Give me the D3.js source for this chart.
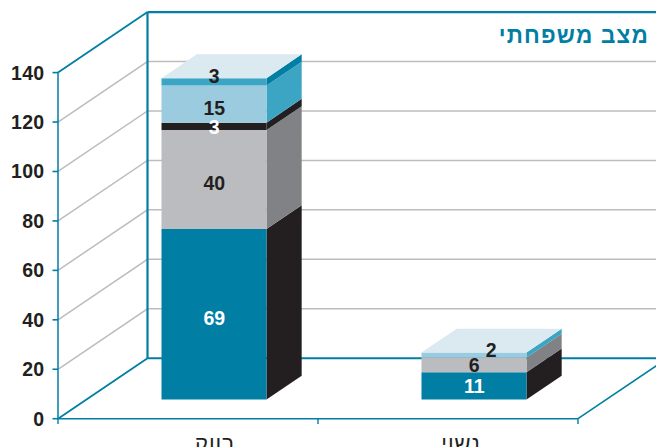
<!DOCTYPE html>
<html><head><meta charset="utf-8">
<script src="https://cdn.jsdelivr.net/npm/d3@7"></script>
<style>html,body{margin:0;padding:0;background:#fff;overflow:hidden}svg{display:block}text{font-family:"Liberation Sans",Arial,sans-serif}</style>
</head><body><svg id="c" width="656" height="447"></svg>
<script>
const categories = ["רווק","נשוי"];
const title = "מצב משפחתי";
const tickValues = [0,20,40,60,80,100,120,140];
const seriesKeys = ["s1","s2","s3","s4","s5"];
const s1 = [69,11];
const s2 = [40,6];
const s3 = [3,0];
const s4 = [15,2];
const s5 = [3,0];
const frontColors = ["#007ea3","#bbbcbf","#231f20","#9bcbdf","#3ba5c3"];
const sideColors  = ["#231f20","#808285","#231f20","#3ba5c3","#007ea3"];
const labelColors = ["#fff","#231f20","#fff","#231f20","#231f20"];
const rows = categories.map((c,i)=>({c,s1:s1[i],s2:s2[i],s3:s3[i],s4:s4[i],s5:s5[i]}));

const svg = d3.select("#c");
const x = d3.scaleBand().domain(categories).range([58,578]);
const y = d3.scaleLinear().domain([0,140]).range([418.7,72.6]);
const depthX = d3.scaleLinear().domain([0,1]).range([0,89.5]);
const depthY = d3.scaleLinear().domain([0,1]).range([0,-60.5]);
const P = (px,v,d)=>[px+depthX(d), y(v)+depthY(d)];
const line = d3.line();
const teal="#007ea3", ink="#231f20", RIGHT=700;

// grid
tickValues.filter(t=>t>0&&t<140).forEach(t=>{
  svg.append("path").attr("fill","none").attr("stroke","#bcbdc0").attr("stroke-width",1.5)
    .attr("d",line([P(58,t,0),P(58,t,1),[RIGHT,P(58,t,1)[1]]]));
});
// frame
const stroke=(pts,w)=>svg.append("path").attr("fill","none").attr("stroke",teal).attr("stroke-width",w).attr("d",line(pts));
stroke([P(58,0,1),[RIGHT,P(58,0,1)[1]]],2);
stroke([P(58,0,1),P(58,140,1)],2.2);
stroke([P(58,140,1),[RIGHT,P(58,140,1)[1]]],2.2);
stroke([P(58,140,0),P(58,140,1)],1.8);
stroke([P(58,0,0),P(58,0,1)],1.8);
stroke([P(58,0,0),P(58,140,0)],1.5);
stroke([P(58,0,0),P(578,0,0)],1.6);
stroke([P(578,0,0),P(578,0,1)],1.6);
// ticks
tickValues.forEach(t=>{
  stroke([[52.5,y(t)],[58,y(t)]],1.6);
  svg.append("text").attr("x",44.5).attr("y",y(t)+6.9).attr("text-anchor","end")
    .attr("font-size",19.5).attr("letter-spacing",0.3).attr("font-weight",700).attr("fill",ink).text(t);
});
[58,318,578].forEach(px=>stroke([[px,418.7],[px,424]],1.4));

// bars
const stack = d3.stack().keys(seriesKeys)(rows);
const barW = 105, d0 = 0.317, d1 = 0.71, off = 26;
const nudges = {"0-0":4,"0-1":3.4,"0-2":0.5,"0-3":4,"0-4":-6,"1-0":-0.2,"1-1":-0.2,"1-2":0,"1-3":-4.5,"1-4":0};
const cx = c => x(c)+x.bandwidth()/2+off-barW/2;
rows.forEach((r,ri)=>{
  const L = cx(r.c)-depthX(d0)+depthX(0), R = L+barW;
  const g = svg.append("g");
  stack.forEach((ser,si)=>{
    const [a,b] = ser[ri];
    if(b===a) return;
    g.append("path").attr("fill",sideColors[si]).attr("d",line([P(R,a,d0),P(R,a,d1),P(R,b,d1),P(R,b,d0)])+"Z");
    g.append("path").attr("fill",frontColors[si]).attr("d",line([P(L,a,d0),P(R,a,d0),P(R,b,d0),P(L,b,d0)])+"Z");
  });
  const top = stack[stack.length-1][ri][1];
  g.append("path").attr("fill","#dbe9f1").attr("d",line([P(L,top,d0),P(R,top,d0),P(R,top,d1),P(L,top,d1)])+"Z");
});
// value labels
rows.forEach((r,ri)=>{
  const L = cx(r.c)-depthX(d0), R=L+barW;
  stack.forEach((ser,si)=>{
    const [a,b] = ser[ri];
    if(b===a) return;
    const p = P((L+R)/2,(a+b)/2,d0);
    const isTopLabel = ri===1&&si===3;
    svg.append("text").attr("x",p[0]+(isTopLabel?17:0)+0.3).attr("y",p[1]+6.8+(nudges[ri+"-"+si]||0))
      .attr("text-anchor","middle").attr("font-size",19.5).attr("font-weight",700)
      .attr("fill",labelColors[si]).text(b-a);
  });
});
// categories
categories.forEach(c=>{
  svg.append("text").attr("x",x(c)+x.bandwidth()/2+off-(c===categories[1]?13:-1)).attr("y",451)
   .attr("text-anchor","middle").attr("direction","rtl").attr("font-size",22).attr("letter-spacing",1).attr("fill",ink).text(c);
});
svg.append("text").attr("x",649).attr("y",43).attr("text-anchor","start").attr("direction","rtl")
  .attr("font-size",22.5).attr("letter-spacing",1.2).attr("font-weight",700).attr("fill",teal).text(title);
</script></body></html>
